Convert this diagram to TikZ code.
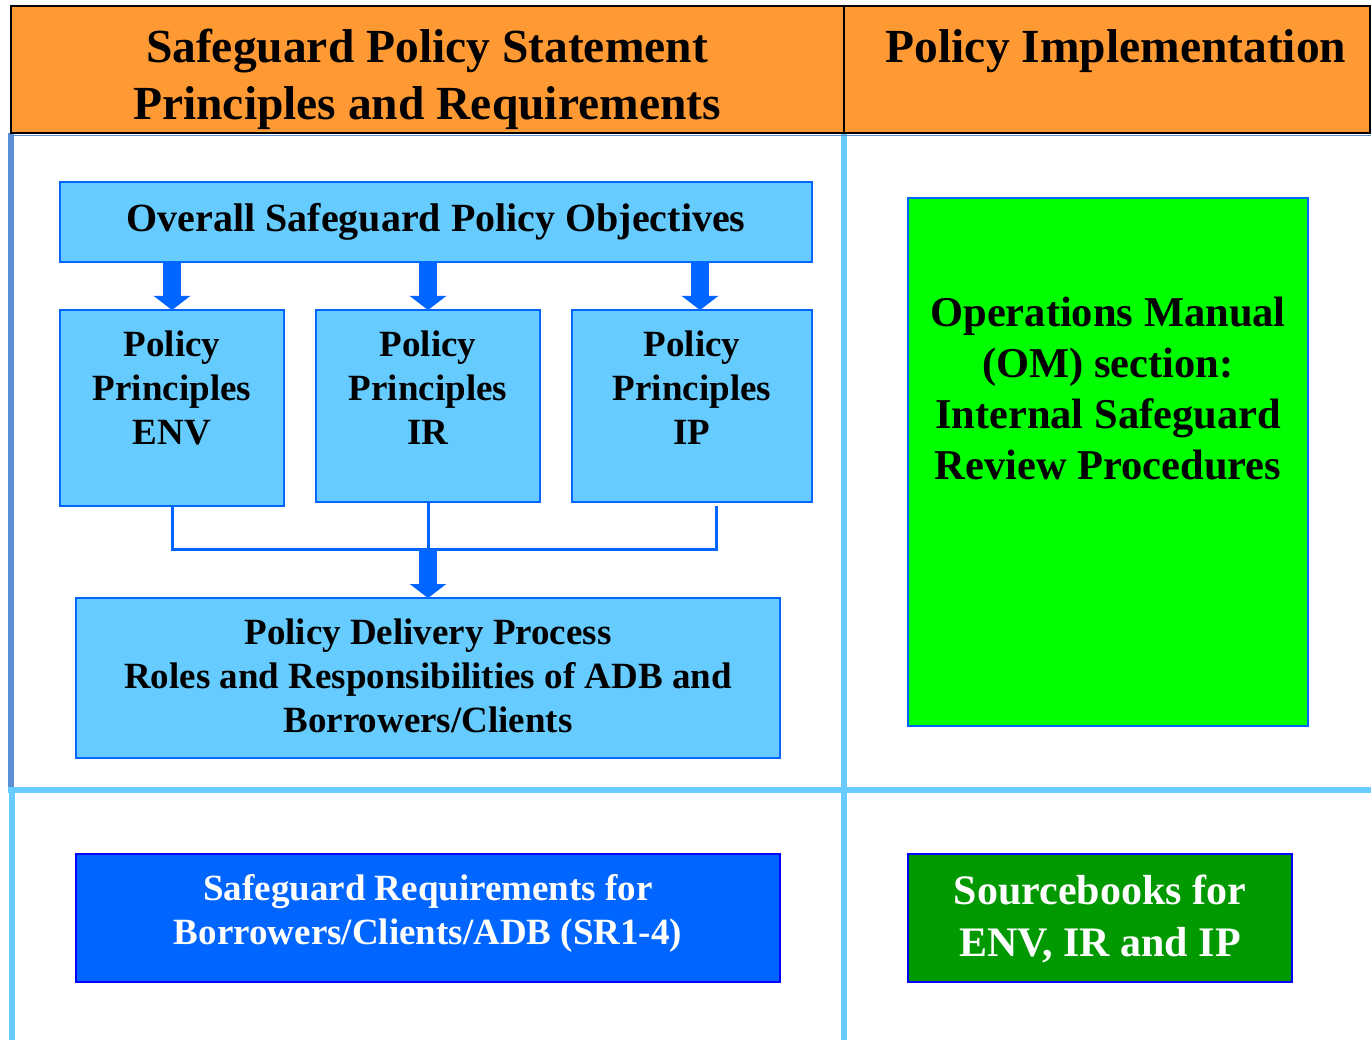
\documentclass[tikz,border=0pt]{standalone}
\usepackage{fontspec}
\setmainfont{Liberation Serif}
\usetikzlibrary{arrows.meta}
\definecolor{hdr}{HTML}{FF9933}
\definecolor{lb}{HTML}{66CCFF}
\definecolor{bb}{HTML}{0066FF}
\definecolor{db}{HTML}{0000FF}
\definecolor{gr}{HTML}{00FF00}
\definecolor{dg}{HTML}{009900}
\definecolor{ml}{HTML}{5B8FD6}
\begin{document}
\begin{tikzpicture}[x=1pt,y=-1pt,
  box/.style={draw=bb, line width=2.5pt, fill=lb, inner sep=0pt, outer sep=0pt, anchor=north west},
  txt/.style={font=\fontsize{37}{44}\selectfont\bfseries, align=center, inner sep=0pt},
  bigtxt/.style={font=\fontsize{42}{51}\selectfont\bfseries, align=center, inner sep=0pt},
  hdrtxt/.style={font=\fontsize{47.5}{57}\selectfont\bfseries, align=center, inner sep=0pt},
  blk/.style={bb, line width=18pt, -{Triangle[width=36pt,length=14pt]}},
  conn/.style={bb, line width=3pt},
  rule/.style={lb, line width=6pt}]
\useasboundingbox (0,0) rectangle (1371,1040);
\fill[white] (0,0) rectangle (1371,1040);
% grid rules
\draw[rule] (843.7,134) -- (843.7,1040);
\draw[rule] (8,790) -- (1371,790);
\draw[ml, line width=6pt] (11,133) -- (11,787);
\draw[lb, line width=6pt] (12,793) -- (12,1040);
% header
\node[draw=black, line width=2.5pt, fill=hdr, minimum width=1359pt, minimum height=127pt,
      anchor=north west, inner sep=0pt, outer sep=0pt] (header) at (11,6) {};
\draw[black, line width=2pt] (843.5,6) -- (843.5,133);
\draw[ml, line width=1.5pt] (14,135.5) -- (1371,135.5);
\node[hdrtxt] (h1) at (427,79) {Safeguard Policy Statement\\Principles and Requirements};
\node[hdrtxt] (h2) at (1116,51) {Policy Implementation};
% boxes
\node[box, minimum width=752pt, minimum height=80pt] (overall) at (60,182) {};
\node[txt, font=\fontsize{40}{44}\selectfont\bfseries] (overallt) at (436,222) {Overall Safeguard Policy Objectives};
\node[box, minimum width=224pt, minimum height=196pt] (env) at (60,310) {};
\node[box, minimum width=224pt, minimum height=192pt] (ir) at (316,310) {};
\node[box, minimum width=240pt, minimum height=192pt] (ip) at (572,310) {};
\node[txt] (envt) at (172,388) {Policy\\Principles\\ENV};
\node[txt] (irt) at (428,388) {Policy\\Principles\\IR};
\node[txt] (ipt) at (692,388) {Policy\\Principles\\IP};
\node[box, minimum width=704pt, minimum height=160pt] (deliv) at (76,598) {};
\node[txt] (delivt) at (428,676) {Policy Delivery Process\\Roles and Responsibilities of ADB and\\Borrowers/Clients};
\node[box, fill=bb, draw=db, minimum width=704pt, minimum height=128pt] (sr) at (76,854) {};
\node[txt, text=white] (srt) at (428,913) {Safeguard Requirements for\\Borrowers/Clients/ADB (SR1-4)};
\node[box, fill=gr, minimum width=400pt, minimum height=528pt] (om) at (908,198) {};
\node[bigtxt, font=\fontsize{42.5}{51}\selectfont\bfseries] (omt) at (1108,389) {Operations Manual\\(OM) section:\\Internal Safeguard\\Review Procedures};
\node[box, fill=dg, draw=db, minimum width=384pt, minimum height=128pt] (sb) at (908,854) {};
\node[bigtxt, font=\fontsize{42}{52}\selectfont\bfseries, text=white] (sbt) at (1100,919) {Sourcebooks for\\ENV, IR and IP};
% block arrows
\coordinate (ipin) at ([xshift=8pt]ip.north);
\draw[blk] (overall.south -| env.north) -- (env.north);
\draw[blk] (overall.south -| ir.north) -- (ir.north);
\draw[blk] (overall.south -| ipin) -- (ipin);
% connectors
\coordinate (junc) at (428,549);
\draw[conn] (env.south) |- (junc);
\draw[conn] ([xshift=24pt,yshift=-4pt]ip.south) |- (junc);
\draw[conn] (ir.south) -- (junc);
\draw[blk] (junc) -- (deliv.north);
\end{tikzpicture}
\end{document}
